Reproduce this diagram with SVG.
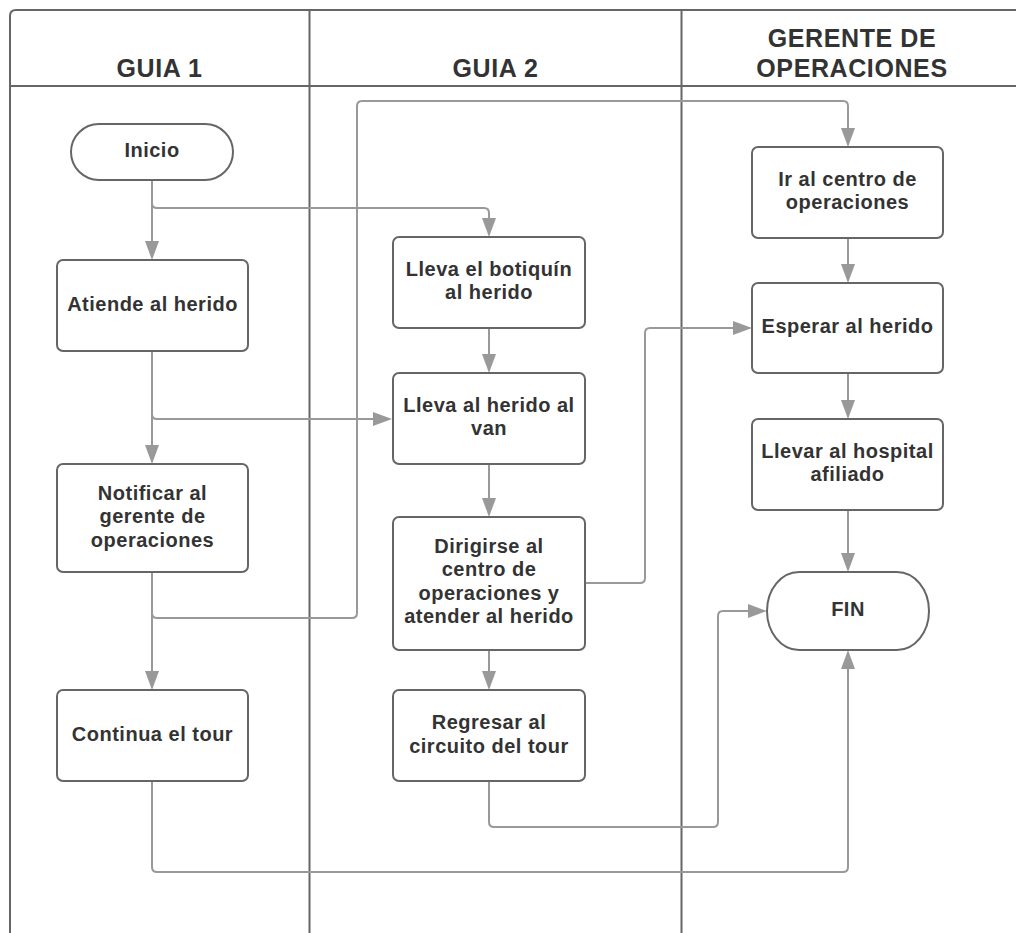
<svg xmlns="http://www.w3.org/2000/svg" width="1016" height="933" viewBox="0 0 1016 933">
  <defs>
    <style>
      .lane { fill: none; stroke: #666; stroke-width: 2; }
      .hdr { font-family: "Liberation Sans", Arial, sans-serif; font-weight: bold; font-size: 25px; letter-spacing: 0.6px; fill: #333; text-anchor: middle; }
      .box { fill: #fff; stroke: #666; stroke-width: 2; }
      .lbl { font-family: "Liberation Sans", Arial, sans-serif; font-weight: bold; font-size: 20px; letter-spacing: 0.5px; fill: #333; text-anchor: middle; }
      .edge { fill: none; stroke: #999; stroke-width: 2; marker-end: url(#arrow); }
    </style>
    <marker id="arrow" markerUnits="userSpaceOnUse" markerWidth="20" markerHeight="14" refX="15" refY="7" orient="auto">
      <path d="M0,0 L19,7 L0,14 Z" fill="#999"/>
    </marker>
  </defs>
  <rect width="1016" height="933" fill="#fff"/>

  <g id="lanes">
    <path class="lane" d="M10,940 V16 Q10,10 16,10 H1020"/>
    <path class="lane" d="M10,86 H1020"/>
    <path class="lane" d="M309.5,10 V940"/>
    <path class="lane" d="M681.5,10 V940"/>
    <text class="hdr" x="159.5" y="76.5">GUIA 1</text>
    <text class="hdr" x="495.5" y="76.5">GUIA 2</text>
    <text class="hdr" x="852" y="47">GERENTE DE</text>
    <text class="hdr" x="852" y="77">OPERACIONES</text>
  </g>

  <g id="connectors">
    <path class="edge" d="M152,180 V256"/>
    <path class="edge" d="M152,203 Q152,208 157,208 H484 Q489,208 489,213 V233"/>
    <path class="edge" d="M152,351 V460"/>
    <path class="edge" d="M152,414 Q152,419 157,419 H388"/>
    <path class="edge" d="M152,572 V686"/>
    <path class="edge" d="M152,613 Q152,618 157,618 H352 Q357,618 357,613 V106 Q357,101 362,101 H843 Q848,101 848,106 V143"/>
    <path class="edge" d="M489,328 V369"/>
    <path class="edge" d="M489,464 V513"/>
    <path class="edge" d="M489,650 V686"/>
    <path class="edge" d="M585,583 H640 Q645,583 645,578 V333 Q645,328 650,328 H748"/>
    <path class="edge" d="M848,238 V279"/>
    <path class="edge" d="M848,373 V415"/>
    <path class="edge" d="M848,510 V568"/>
    <path class="edge" d="M489,781 V822 Q489,827 494,827 H713 Q718,827 718,822 V616 Q718,611 723,611 H763"/>
    <path class="edge" d="M152,781 V867 Q152,872 157,872 H843 Q848,872 848,867 V654"/>
  </g>

  <g id="inicio">
    <rect class="box" x="71" y="124" width="162" height="56" rx="28" ry="28"/>
    <text class="lbl" x="152" y="157">Inicio</text>
  </g>
  <g id="atiende">
    <rect class="box" x="57" y="260" width="191" height="91" rx="6"/>
    <text class="lbl" x="152.5" y="310.5">Atiende al herido</text>
  </g>
  <g id="notificar">
    <rect class="box" x="57" y="464" width="191" height="108" rx="6"/>
    <text class="lbl" x="152.5" y="499.5">Notificar al</text>
    <text class="lbl" x="152.5" y="523">gerente de</text>
    <text class="lbl" x="152.5" y="546.5">operaciones</text>
  </g>
  <g id="continua">
    <rect class="box" x="57" y="690" width="191" height="91" rx="6"/>
    <text class="lbl" x="152.5" y="740.5">Continua el tour</text>
  </g>

  <g id="botiquin">
    <rect class="box" x="393" y="237" width="192" height="91" rx="6"/>
    <text class="lbl" x="489" y="275.5">Lleva el botiquín</text>
    <text class="lbl" x="489" y="299">al herido</text>
  </g>
  <g id="van">
    <rect class="box" x="393" y="373" width="192" height="91" rx="6"/>
    <text class="lbl" x="489" y="411.5">Lleva al herido al</text>
    <text class="lbl" x="489" y="435">van</text>
  </g>
  <g id="dirigirse">
    <rect class="box" x="393" y="517" width="192" height="133" rx="6"/>
    <text class="lbl" x="489" y="552.5">Dirigirse al</text>
    <text class="lbl" x="489" y="576">centro de</text>
    <text class="lbl" x="489" y="599.5">operaciones y</text>
    <text class="lbl" x="489" y="623">atender al herido</text>
  </g>
  <g id="regresar">
    <rect class="box" x="393" y="690" width="192" height="91" rx="6"/>
    <text class="lbl" x="489" y="729">Regresar al</text>
    <text class="lbl" x="489" y="752.5">circuito del tour</text>
  </g>

  <g id="ir-centro">
    <rect class="box" x="752" y="147" width="191" height="91" rx="6"/>
    <text class="lbl" x="847.5" y="185.5">Ir al centro de</text>
    <text class="lbl" x="847.5" y="209">operaciones</text>
  </g>
  <g id="esperar">
    <rect class="box" x="752" y="283" width="191" height="90" rx="6"/>
    <text class="lbl" x="847.5" y="333">Esperar al herido</text>
  </g>
  <g id="hospital">
    <rect class="box" x="752" y="419" width="191" height="91" rx="6"/>
    <text class="lbl" x="847.5" y="457.5">Llevar al hospital</text>
    <text class="lbl" x="847.5" y="481">afiliado</text>
  </g>
  <g id="fin">
    <rect class="box" x="767" y="572" width="162" height="78" rx="32" ry="39"/>
    <text class="lbl" x="848" y="616">FIN</text>
  </g>
</svg>
